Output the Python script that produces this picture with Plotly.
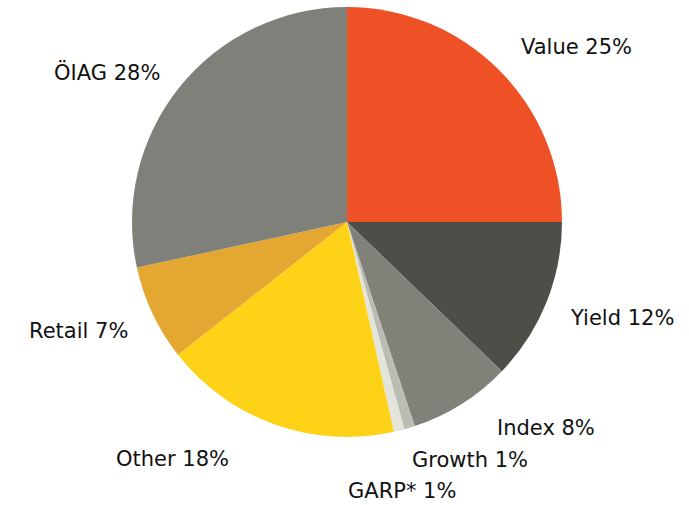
import plotly.graph_objects as go

labels = ["Value", "Yield", "Index", "Growth", "GARP*", "Other", "Retail", "ÖIAG"]
values = [25.0, 12.2, 7.7, 0.8, 0.8, 17.9, 7.2, 28.4]
colors = ["#EE5125", "#4D4E47", "#80827A", "#BBBCB4", "#E3E4DA", "#FDD217", "#E3A732", "#7F8079"]
# label centre positions in pixels (x, y from top)
label_pos = [(576, 47), (622, 318), (546, 428), (470, 460), (402, 491), (173, 459), (78, 331), (107, 72)]

W, H = 689, 505
fig = go.Figure(go.Pie(
    labels=labels, values=values, sort=False, direction="clockwise", rotation=0,
    marker=dict(colors=colors, line=dict(width=0)),
    textinfo="none", hoverinfo="label+percent", showlegend=False,
    domain=dict(x=[132 / W, 562 / W], y=[1 - 437 / H, 1 - 7 / H]),
))
total = sum(values)
for lab, v, (px, py) in zip(labels, values, label_pos):
    pct = round(100 * v / total)
    fig.add_annotation(x=px / W, y=1 - py / H, xref="paper", yref="paper",
                       text=f"{lab} {pct}%", showarrow=False, xanchor="center", yanchor="middle",
                       font=dict(family="DejaVu Sans, sans-serif", size=21, color="#111111"))
fig.update_layout(width=W, height=H, margin=dict(l=0, r=0, t=0, b=0),
                  paper_bgcolor="white", plot_bgcolor="white")
fig.write_html("out.html")
